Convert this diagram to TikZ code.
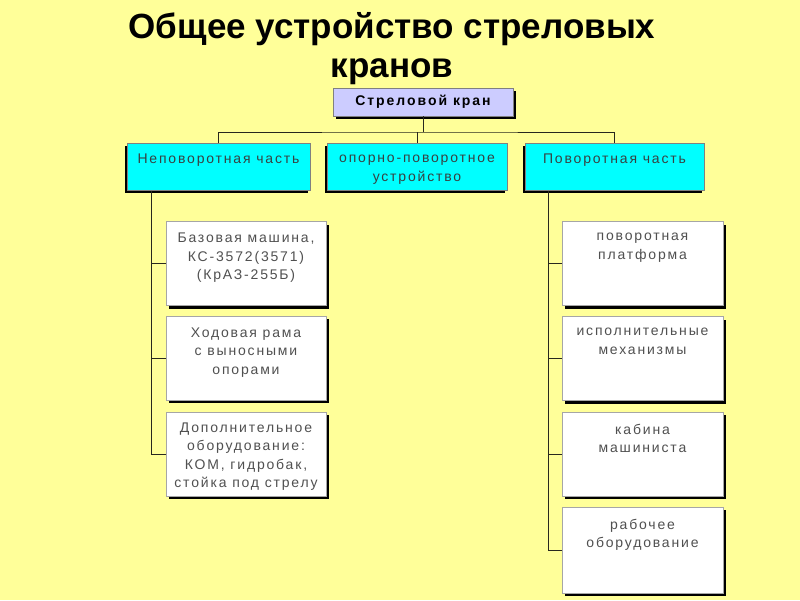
\documentclass[tikz,border=0pt]{standalone}
\usepackage{fontspec}
\setmainfont{Liberation Sans}
\newfontfamily\boxfont[LetterSpace=13]{Liberation Sans}
\newfontfamily\topfont[LetterSpace=14]{Liberation Sans}
\usetikzlibrary{shadows}
\definecolor{bg}{RGB}{255,255,153}
\definecolor{lav}{RGB}{204,204,255}
\definecolor{cyanbox}{RGB}{0,255,255}
\definecolor{txtgray}{RGB}{80,80,80}
\definecolor{rowtxt}{RGB}{55,65,65}
\definecolor{edge}{RGB}{128,128,128}
\definecolor{link}{RGB}{40,40,30}
\tikzset{
  topbox/.style={draw=edge, fill=lav, line width=0.8pt, inner sep=0pt,
    minimum width=180pt, minimum height=28pt,
    drop shadow={shadow xshift=2.5pt, shadow yshift=-2.5pt, fill=black, opacity=1},
    font=\topfont\bfseries\fontsize{14}{17}\selectfont},
  rowbox/.style={draw=edge, fill=cyanbox, line width=0.8pt, inner sep=0pt,
    minimum height=47pt,
    drop shadow={shadow xshift=-2.5pt, shadow yshift=-2.5pt, fill=black, opacity=1}},
  childbox/.style={draw=edge!70, fill=white, line width=0.8pt, inner sep=0pt,
    minimum width=160pt, minimum height=84pt,
    drop shadow={shadow xshift=3pt, shadow yshift=-3pt, fill=black, opacity=1}},
  txt/.style={anchor=north, inner sep=0pt, align=center, text=txtgray,
    font=\boxfont\fontsize{14}{18.3}\selectfont, execute at begin node=\strut},
  rowtext/.style={txt, text=rowtxt, font=\boxfont\fontsize{14}{19}\selectfont},
  link/.style={draw=link, line width=0.8pt}
}
\begin{document}
\begin{tikzpicture}[x=1pt,y=-1pt]
\useasboundingbox (0,0) rectangle (800,600);
\fill[bg] (0,0) rectangle (800,600);

% title
\node[font=\bfseries\fontsize{35}{38.5}\selectfont, align=center, anchor=base, inner sep=0pt]
  (title) at (392,77) {Общее устройство стреловых\\кранов};

% top
\node[topbox] (top) at (423,102) {Стреловой кран};

% row
\node[rowbox, minimum width=183pt] (rl) at (218.5,167) {};
\node[rowbox, minimum width=180pt] (rm) at (417,166.5) {};
\node[rowbox, minimum width=179pt] (rr) at (614.5,167) {};
\node[rowtext] (rlt) at ([yshift=-7pt]rl.north) {Неповоротная часть};
\node[rowtext] (rmt) at ([yshift=-12.5pt]rm.north) {опорно-поворотное\\устройство};
\node[rowtext] (rrt) at ([yshift=-7pt]rr.north) {Поворотная часть};

\coordinate (bus) at (423,132);
\draw[link] (top.south) -- (bus);
\draw[link] (rl.north) |- (bus) -| (rr.north);
\draw[link] (rm.north) -- (rm.north |- bus);

% left children
\node[childbox] (l1) at (246,263.5) {};
\node[childbox] (l2) at (246,358) {};
\node[childbox] (l3) at (246,454) {};
\node[txt] (l1t) at ([yshift=-12pt]l1.north) {Базовая машина,\\КС-3572(3571)\\(КрАЗ-255Б)};
\node[txt] (l2t) at ([yshift=-12pt]l2.north) {Ходовая рама\\с выносными\\опорами};
\node[txt] (l3t) at ([yshift=-11pt]l3.north) {Дополнительное\\оборудование:\\КОМ, гидробак,\\стойка под стрелу};

\coordinate (ls) at (151,0);
\draw[link] (rl.south -| ls) |- (l1.west);
\draw[link] (rl.south -| ls) |- (l2.west);
\draw[link] (rl.south -| ls) |- (l3.west);

% right children
\node[childbox, minimum width=161pt] (r1) at (642.5,263.5) {};
\node[childbox, minimum width=161pt] (r2) at (642.5,358.5) {};
\node[childbox, minimum width=161pt] (r3) at (642.5,454) {};
\node[childbox, minimum width=161pt, minimum height=86pt] (r4) at (642.5,550) {};
\node[txt] (r1t) at ([yshift=-12pt]r1.north) {поворотная\\платформа};
\node[txt] (r2t) at ([yshift=-12pt]r2.north) {исполнительные\\механизмы};
\node[txt] (r3t) at ([yshift=-12pt]r3.north) {кабина\\машиниста};
\node[txt] (r4t) at ([yshift=-12pt]r4.north) {рабочее\\оборудование};

\coordinate (rs) at (548,0);
\draw[link] (rr.south -| rs) |- (r1.west);
\draw[link] (rr.south -| rs) |- (r2.west);
\draw[link] (rr.south -| rs) |- (r3.west);
\draw[link] (rr.south -| rs) |- (r4.west);
\end{tikzpicture}
\end{document}
